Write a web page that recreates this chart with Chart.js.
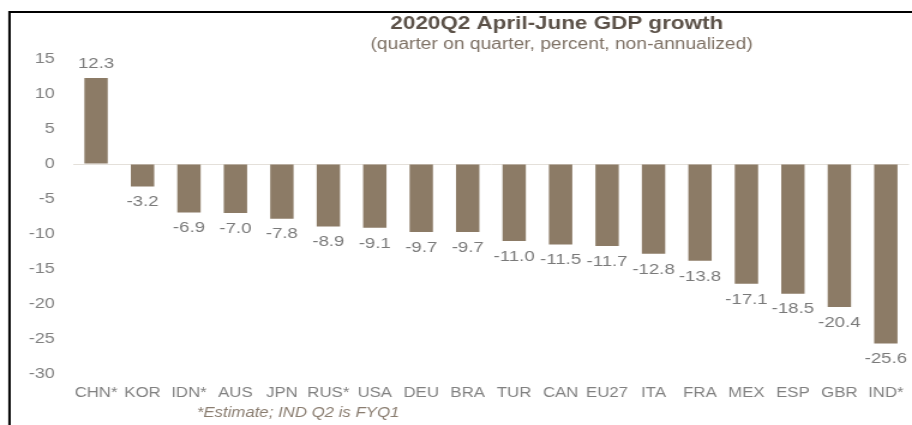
<!DOCTYPE html>
<html>
<head>
<meta charset="utf-8">
<script src="https://cdn.jsdelivr.net/npm/chart.js@4/dist/chart.umd.min.js"></script>
<style>
  html, body { margin: 0; padding: 0; background: #ffffff; overflow: hidden; }
  /* the slide is rendered with a horizontally widened typeface look */
  #wrap { width: 764px; height: 425px; transform: scaleX(1.2); transform-origin: 0 0; }
</style>
</head>
<body>
<div id="wrap"><canvas id="gdp" width="764" height="425"></canvas></div>
<script>
// Q2 2020 quarter-on-quarter GDP growth, percent
const countries = ['CHN*', 'KOR', 'IDN*', 'AUS', 'JPN', 'RUS*', 'USA', 'DEU', 'BRA', 'TUR', 'CAN', 'EU27', 'ITA', 'FRA', 'MEX', 'ESP', 'GBR', 'IND*'];
const growth = [12.3, -3.2, -6.9, -7.0, -7.8, -8.9, -9.1, -9.7, -9.7, -11.0, -11.5, -11.7, -12.8, -13.8, -17.1, -18.5, -20.4, -25.6];
const titleText = '2020Q2 April-June GDP growth';
const subtitleText = '(quarter on quarter, percent, non-annualized)';
const footnoteText = '*Estimate; IND Q2 is FYQ1';

const FONT = "'Liberation Sans', Arial, sans-serif";
const BAR = '#8c7b66';
const TEXT = '#808080';

// frame, headings, value labels and footnote
const decorations = {
  id: 'decorations',
  afterDatasetsDraw(chart) {
    const ctx = chart.ctx;
    ctx.save();
    // value labels
    ctx.font = '15.5px ' + FONT;
    ctx.fillStyle = '#7a7a7a';
    ctx.textAlign = 'center';
    ctx.textBaseline = 'middle';
    chart.getDatasetMeta(0).data.forEach((bar, i) => {
      const v = growth[i];
      const y = v >= 0 ? bar.y - 14 : bar.y + 15.5;
      ctx.fillText(v.toFixed(1), bar.x, y);
    });
    // headings
    ctx.fillStyle = '#5c5249';
    ctx.font = 'bold 18.7px ' + FONT;
    ctx.fillText(titleText, 464, 23.5);
    ctx.fillStyle = '#7d7064';
    ctx.font = '16px ' + FONT;
    ctx.fillText(subtitleText, 468, 45);
    // footnote
    ctx.fillStyle = '#8a7d70';
    ctx.font = 'italic 14px ' + FONT;
    ctx.textAlign = 'left';
    ctx.fillText(footnoteText, 164, 413);
    // frame
    ctx.strokeStyle = '#000000';
    ctx.lineWidth = 2;
    ctx.beginPath();
    ctx.moveTo(7.9, 425);
    ctx.lineTo(7.9, 12);
    ctx.lineTo(764, 12);
    ctx.stroke();
    ctx.restore();
  }
};

new Chart(document.getElementById('gdp'), {
  type: 'bar',
  data: {
    labels: countries,
    datasets: [{
      data: growth,
      backgroundColor: BAR,
      borderWidth: 0,
      barPercentage: 0.503,
      categoryPercentage: 1.0
    }]
  },
  options: {
    responsive: false,
    animation: false,
    devicePixelRatio: 1,
    layout: { padding: { left: 9, right: 2, top: 59, bottom: 12 } },
    plugins: { legend: { display: false }, tooltip: { enabled: false }, title: { display: false } },
    scales: {
      x: {
        offset: true,
        grid: { display: false, drawTicks: false },
        border: { display: false },
        ticks: { color: TEXT, font: { family: FONT, size: 14 }, padding: 11, maxRotation: 0, autoSkip: false }
      },
      y: {
        min: -30,
        max: 15,
        grid: {
          drawTicks: false,
          color: ctx => (ctx.tick && ctx.tick.value === 0 ? '#e4e0da' : 'rgba(0,0,0,0)')
        },
        border: { display: false },
        ticks: { stepSize: 5, color: TEXT, font: { family: FONT, size: 15 }, padding: 15 }
      }
    }
  },
  plugins: [decorations]
});
</script>
</body>
</html>
